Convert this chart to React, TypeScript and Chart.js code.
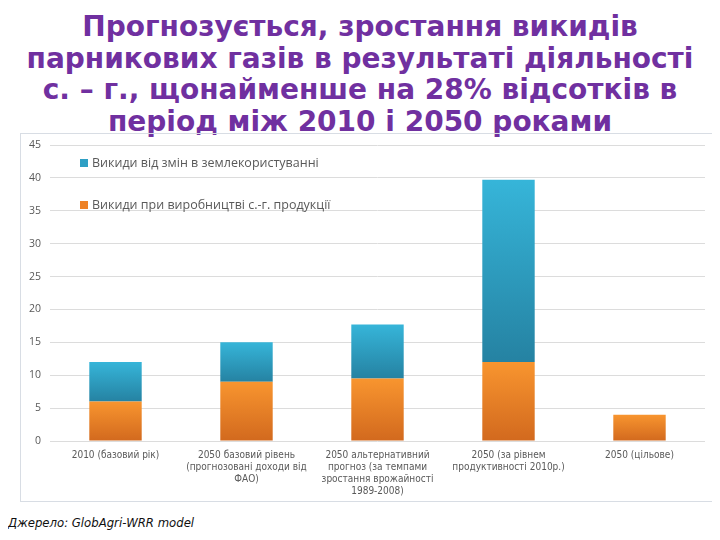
import React, { useEffect, useRef } from "react";
import { Chart, registerables } from "chart.js";

Chart.register(...registerables);

const titleLines = [
  "Прогнозується, зростання викидів",
  "парникових газів в результаті діяльності",
  "с. – г., щонайменше на 28% відсотків в",
  "період між 2010 і 2050 роками",
];

const categories: string[][] = [
  ["2010 (базовий рік)"],
  ["2050 базовий рівень", "(прогнозовані доходи від", "ФАО)"],
  ["2050 альтернативний", "прогноз (за темпами", "зростання врожайності", "1989-2008)"],
  ["2050 (за рівнем", "продуктивності 2010р.)"],
  ["2050 (цільове)"],
];

const productionLabel = "Викиди при виробництві с.-г. продукції";
const landUseLabel = "Викиди від змін в землекористуванні";

const productionEmissions = [6, 9, 9.5, 12, 4];
const landUseEmissions = [6, 6, 8.2, 27.7, 0];

const yMin = 0;
const yMax = 45;
const yStep = 5;

const sourceText = "Джерело: GlobAgri-WRR model";

const ORANGE_TOP = "#F8952F";
const ORANGE_BOTTOM = "#D2691E";
const TEAL_TOP = "#36B5D9";
const TEAL_BOTTOM = "#2582A2";

const NARROW = "'DejaVu Sans Condensed', 'Liberation Sans Narrow', sans-serif";

function gradientFill(datasetIndex: number, top: string, bottom: string) {
  return (ctx: any) => {
    const chart = ctx.chart;
    const y = chart.scales && chart.scales.y;
    if (ctx.type !== "data" || !y) return top;
    const i = ctx.dataIndex;
    const base = datasetIndex === 0 ? 0 : productionEmissions[i];
    const val = datasetIndex === 0 ? productionEmissions[i] : landUseEmissions[i];
    const y0 = y.getPixelForValue(base);
    const y1 = y.getPixelForValue(base + val);
    if (!isFinite(y0) || !isFinite(y1) || y0 === y1) return top;
    const g = chart.ctx.createLinearGradient(0, y1, 0, y0);
    g.addColorStop(0, top);
    g.addColorStop(1, bottom);
    return g;
  };
}

const insideLegend = {
  id: "insideLegend",
  afterDraw(chart: any) {
    const { ctx, chartArea } = chart;
    const items = chart.data.datasets
      .map((d: any) => ({ label: d.label, color: d.legendColor }))
      .reverse();
    ctx.save();
    ctx.font = "12.5px 'Open Sans', sans-serif";
    ctx.textBaseline = "middle";
    items.forEach((it: any, k: number) => {
      const cy = chartArea.top + 18 + k * 42;
      const x = chartArea.left + 30;
      ctx.fillStyle = it.color;
      ctx.fillRect(x, cy - 4, 8, 8);
      ctx.fillStyle = "#595959";
      ctx.fillText(it.label, x + 12, cy);
    });
    ctx.restore();
  },
};

export default function App() {
  const canvasRef = useRef<HTMLCanvasElement | null>(null);

  useEffect(() => {
    if (!canvasRef.current) return;
    const chart = new Chart(canvasRef.current, {
      type: "bar",
      data: {
        labels: categories,
        datasets: [
          {
            label: productionLabel,
            data: productionEmissions,
            backgroundColor: gradientFill(0, ORANGE_TOP, ORANGE_BOTTOM),
            legendColor: "#EE8227",
            borderWidth: 0,
            categoryPercentage: 0.8,
            barPercentage: 0.5,
          } as any,
          {
            label: landUseLabel,
            data: landUseEmissions,
            backgroundColor: gradientFill(1, TEAL_TOP, TEAL_BOTTOM),
            legendColor: "#2E9FC4",
            borderWidth: 0,
            categoryPercentage: 0.8,
            barPercentage: 0.5,
          } as any,
        ],
      },
      options: {
        animation: false,
        responsive: true,
        maintainAspectRatio: false,
        layout: { padding: { top: 0, right: 12, bottom: 0, left: 0 } },
        plugins: {
          legend: { display: false },
          tooltip: { enabled: false },
          title: { display: false },
        },
        scales: {
          x: {
            stacked: true,
            grid: { display: false, drawTicks: false },
            border: { display: false },
            ticks: {
              color: "#595959",
              font: { family: NARROW, size: 10, lineHeight: 1.22 },
              maxRotation: 0,
              autoSkip: false,
              padding: 8,
            },
            afterFit: (scale: any) => {
              scale.height = 60;
            },
          },
          y: {
            stacked: true,
            min: yMin,
            max: yMax,
            grid: { color: "#dcdcdc", drawTicks: false, lineWidth: 1 },
            border: { display: false },
            ticks: {
              stepSize: yStep,
              color: "#595959",
              font: { family: "'Open Sans', sans-serif", size: 10.5 },
              padding: 9,
            },
            afterFit: (scale: any) => {
              scale.width = 29;
              scale.paddingTop = 11;
            },
          },
        },
      },
      plugins: [insideLegend],
    });
    return () => chart.destroy();
  }, []);

  return (
    <div style={{ position: "relative", width: 720, height: 540, margin: -8, background: "#fff" }}>
      <div
        style={{
          position: "absolute",
          left: 0,
          top: 11,
          width: 720,
          textAlign: "center",
          fontFamily: "'DejaVu Sans', Verdana, sans-serif",
          fontWeight: "bold",
          fontSize: 28,
          lineHeight: "31.5px",
          color: "#7030A0",
          whiteSpace: "nowrap",
        }}
      >
        {titleLines.map((l, i) => (
          <div key={i}>{l}</div>
        ))}
      </div>
      <div
        style={{
          position: "absolute",
          left: 20,
          top: 133,
          width: 698,
          height: 369,
          border: "1px solid #d8dde4",
          boxSizing: "border-box",
        }}
      >
        <canvas ref={canvasRef} />
      </div>
      <div
        style={{
          position: "absolute",
          left: 8,
          top: 515,
          fontFamily: NARROW,
          fontStyle: "italic",
          fontSize: 13,
          color: "#111",
        }}
      >
        {sourceText}
      </div>
    </div>
  );
}
